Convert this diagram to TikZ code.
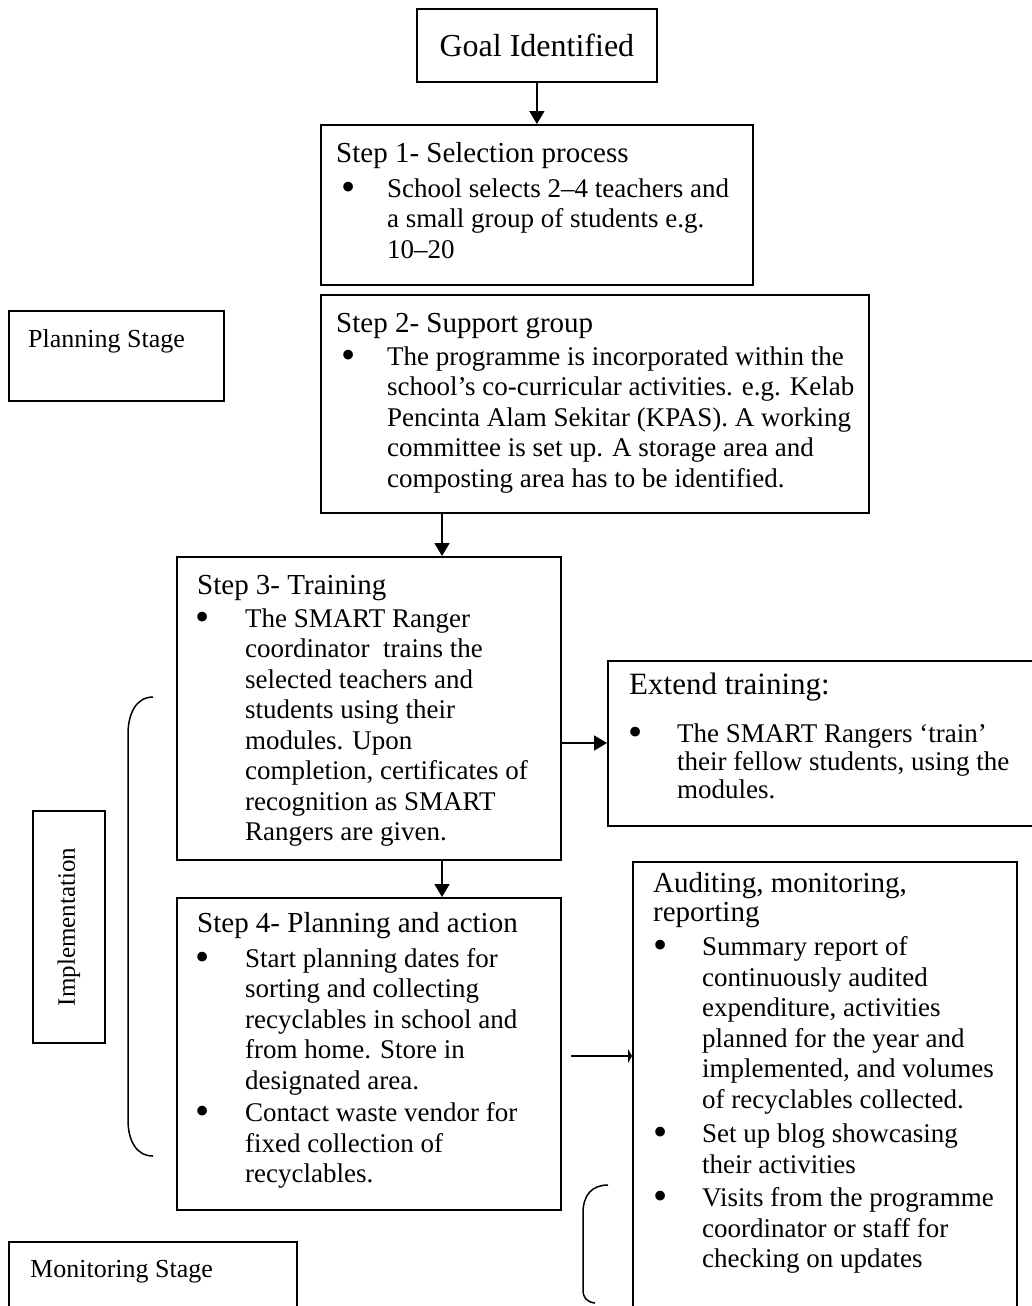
\documentclass[tikz,border=0pt]{standalone}
\usepackage{fontspec}
\setmainfont{Liberation Serif}
\usetikzlibrary{arrows.meta}
\newcommand{\bigbul}{\raisebox{-3pt}{\scalebox{1.5}{\textbullet}}}
\newcommand{\bitem}[3]{\par\noindent\hangindent=#2\hangafter=1\makebox[#2][l]{\hspace*{#1}\makebox[0pt]{\bigbul}}\ignorespaces#3\par}
\newcommand{\hdfont}{\fontsize{29pt}{30.5pt}\selectfont}
\tikzset{
  box/.style={draw, line width=1.8pt, anchor=north west, inner sep=0pt},
  txt/.style={anchor=base west, inner sep=0pt},
  arr/.style={line width=1.8pt, -{Triangle[length=13pt,width=15pt]}},
  arrflat/.style={line width=1.8pt, -{Triangle[length=4pt,width=14pt]}},
  brk/.style={line width=1.5pt},
}
\begin{document}
\begin{tikzpicture}[x=1pt,y=-1pt]
\fill[white] (0,0) rectangle (1031,1306);
\useasboundingbox (0,0) rectangle (1031,1306);

% boxes
\node[box, minimum width=240pt, minimum height=73pt] (goal) at (416,8) {};
\node[font=\fontsize{32pt}{36pt}\selectfont, inner sep=0pt] (goalt) at (goal.center) {Goal Identified};

\node[box, minimum width=432pt, minimum height=160pt] (s1) at (320,124) {};
\node[box, minimum width=548pt, minimum height=218pt] (s2) at (320,294) {};
\node[box, minimum width=384pt, minimum height=303pt] (s3) at (176,556) {};
\node[box, minimum width=384pt, minimum height=312pt] (s4) at (176,897) {};
\node[box, minimum width=440pt, minimum height=165pt] (ext) at (607,660) {};
\node[box, minimum width=384pt, minimum height=470pt] (aud) at (632,861) {};
\node[box, minimum width=215pt, minimum height=90pt] (plan) at (8,310) {};
\node[box, minimum width=288pt, minimum height=90pt] (mon) at (8,1241) {};
\node[box, minimum width=72pt, minimum height=232pt] (impl) at (32,810) {};

% texts
\node[txt] (s1t) at (320,162) {\parbox[t]{600pt}{\fontsize{27pt}{30.5pt}\selectfont
{\hdfont\hspace*{16pt}Step 1- Selection process\par}\vspace{4.5pt}
\bitem{28pt}{67pt}{School selects 2–4 teachers and\\ a small group of students e.g.\\ 10–20}}};

\node[txt] (s2t) at (320,332) {\parbox[t]{600pt}{\fontsize{27pt}{30.5pt}\selectfont
{\hdfont\hspace*{16pt}Step 2- Support group\par}\vspace{2.5pt}
\bitem{28pt}{67pt}{The programme is incorporated within the\\ school’s co-curricular activities. e.g. Kelab\\ Pencinta Alam Sekitar (KPAS). A working\\ committee is set up. A storage area and\\ composting area has to be identified.}}};

\node[txt] (s3t) at (176,594) {\parbox[t]{600pt}{\fontsize{27pt}{30.5pt}\selectfont
{\hdfont\hspace*{21pt}Step 3- Training\par}\vspace{2.5pt}
\bitem{26pt}{69pt}{The SMART Ranger\\ coordinator\ \ trains the\\ selected teachers and\\ students using their\\ modules. Upon\\ completion, certificates of\\ recognition as SMART\\ Rangers are given.}}};

\node[txt] (s4t) at (176,932) {\parbox[t]{600pt}{\fontsize{27pt}{30.6pt}\selectfont
{\hdfont\hspace*{21pt}Step 4- Planning and action\par}\vspace{4.4pt}
\bitem{26pt}{69pt}{Start planning dates for\\ sorting and collecting\\ recyclables in school and\\ from home. Store in\\ designated area.}\vspace{1.5pt}
\bitem{26pt}{69pt}{Contact waste vendor for\\ fixed collection of\\ recyclables.}}};

\node[txt] (extt) at (607,694) {\parbox[t]{600pt}{{\fontsize{31pt}{34pt}\selectfont
\hspace*{22pt}Extend training:\par}\fontsize{27pt}{28pt}\selectfont\vspace{20pt}
\bitem{28pt}{70pt}{The SMART Rangers ‘train’\\ their fellow students, using the\\ modules.}}};

\node[txt] (audt) at (632,892) {\parbox[t]{600pt}{{\fontsize{29pt}{29pt}\selectfont
\hspace*{21pt}Auditing, monitoring,\\ \hspace*{21pt}reporting\par}\fontsize{27pt}{30.5pt}\selectfont\vspace{4pt}
\bitem{28pt}{70pt}{Summary report of\\ continuously audited\\ expenditure, activities\\ planned for the year and\\ implemented, and volumes\\ of recyclables collected.}\vspace{4pt}
\bitem{28pt}{70pt}{Set up blog showcasing\\ their activities}\vspace{3pt}
\bitem{28pt}{70pt}{Visits from the programme\\ coordinator or staff for\\ checking on updates}}};

\node[txt, font=\fontsize{26pt}{30pt}\selectfont] (plant) at (28,347) {Planning Stage};
\node[txt, font=\fontsize{26pt}{30pt}\selectfont] (mont) at (30,1277) {Monitoring Stage};
\node[font=\fontsize{25pt}{30pt}\selectfont, rotate=90, inner sep=0pt] (implt) at (impl.center) {Implementation};

% connectors
\draw[arr] (goal.south) -- (goal.south |- s1.north);
\draw[arr] ([xshift=122pt]s2.south west) -- ([xshift=266pt]s3.north west);
\draw[arr] ([xshift=266pt]s3.south west) -- ([xshift=266pt]s4.north west);
\coordinate (e1) at ([yshift=-187pt]s3.north east);
\draw[arr] (e1) -- (e1 -| ext.west);
\coordinate (a1) at (571,1056);
\draw[arrflat] (a1) -- (a1 -| aud.west);

% brackets
\draw[brk] (153,697) .. controls (136,697) and (128,714) .. (128,734) -- (128,1120) .. controls (128,1140) and (136,1156) .. (153,1156);
\draw[brk] (608,1185) .. controls (592,1185) and (583,1195) .. (583,1213) -- (583,1290) .. controls (583,1298) and (587,1302) .. (595,1303);
\end{tikzpicture}
\end{document}
